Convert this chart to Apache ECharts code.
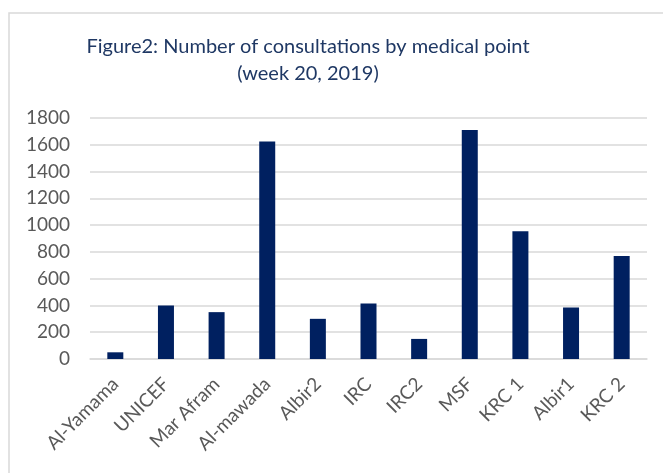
<!DOCTYPE html>
<html>
<head>
<meta charset="utf-8">
<script src="https://cdn.jsdelivr.net/npm/echarts@6/dist/echarts.min.js"></script>
<style>
  html, body { margin: 0; padding: 0; background: #fff; }
  #main { width: 663px; height: 473px; }
</style>
</head>
<body>
<div id="main"></div>
<script>
// medical points (x axis)
var categories = ['Al-Yamama', 'UNICEF', 'Mar Afram', 'Al-mawada', 'Albir2', 'IRC', 'IRC2', 'MSF', 'KRC 1', 'Albir1', 'KRC 2'];
// consultations, week 20 2019
var consultations = [50, 400, 350, 1625, 300, 415, 150, 1710, 955, 385, 770];
var yTicks = { min: 0, max: 1800, interval: 200 };

var chart = echarts.init(document.getElementById('main'));

var titleStyle = {
  fontFamily: 'Lato',
  fontWeight: 'normal',
  fontSize: 20,
  color: '#1f3864'
};

chart.setOption({
  animation: false,
  // outer frame
  graphic: [{
    type: 'rect',
    shape: { x: 9, y: 13, width: 700, height: 500 },
    style: { fill: 'none', stroke: '#d9d9d9', lineWidth: 1.5 },
    silent: true
  }],
  title: [{
    text: 'Figure2: Number of consultations by medical point',
    left: 303, top: 32, textAlign: 'center',
    textStyle: titleStyle
  }, {
    text: '(week 20, 2019)',
    left: 303, top: 59, textAlign: 'center',
    textStyle: titleStyle
  }],
  grid: { left: 90, right: 16, top: 118, bottom: 114 },
  xAxis: {
    type: 'category',
    data: categories,
    axisLine: { lineStyle: { color: '#d9d9d9', width: 1.5 } },
    axisTick: { show: false },
    axisLabel: {
      rotate: 45,
      interval: 0,
      margin: 22,
      color: '#595959',
      fontFamily: 'Lato',
      fontSize: 19
    }
  },
  yAxis: {
    type: 'value',
    min: yTicks.min,
    max: yTicks.max,
    interval: yTicks.interval,
    axisLine: { show: false },
    axisTick: { show: false },
    splitLine: { lineStyle: { color: '#d9d9d9', width: 1.5 } },
    axisLabel: {
      margin: 20,
      color: '#595959',
      fontFamily: 'Lato',
      fontSize: 19,
      formatter: function (v) { return String(v); }
    }
  },
  series: [{
    type: 'bar',
    data: consultations,
    barWidth: 16,
    itemStyle: { color: '#002060' }
  }]
});
</script>
</body>
</html>
